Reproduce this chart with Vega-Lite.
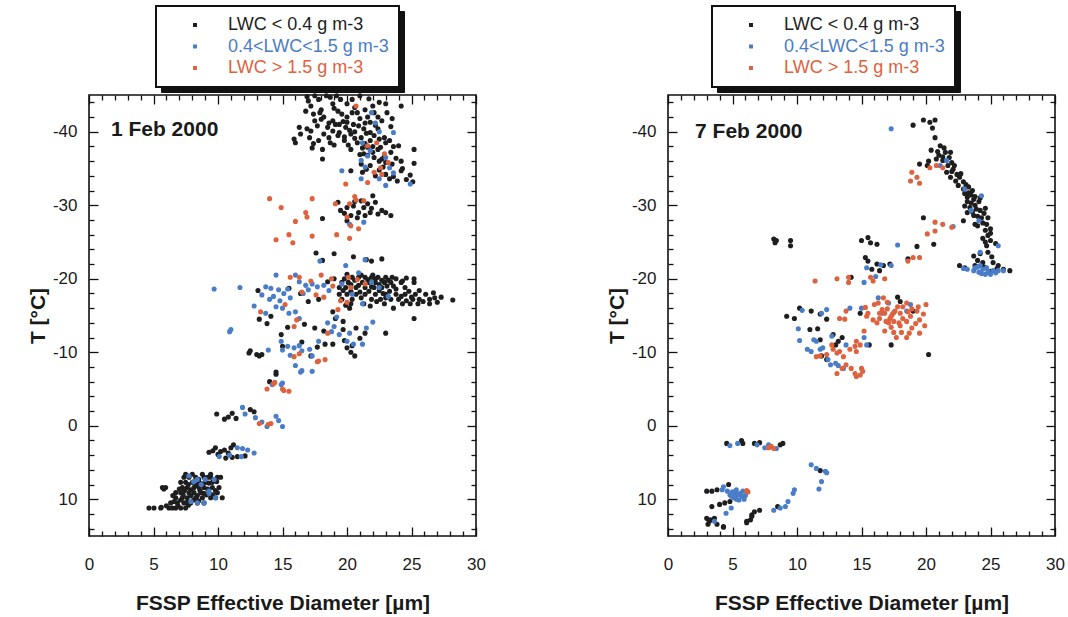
{
  "$schema": "https://vega.github.io/schema/vega-lite/v6.json",
  "background": "white",
  "padding": {"left": 26, "top": 4, "right": 2, "bottom": 0},
  "spacing": 118,
  "config": {
    "font": "Liberation Sans",
    "view": {"stroke": "#111", "strokeWidth": 1.6},
    "axis": {"grid": false, "domain": false, "tickColor": "#111", "tickWidth": 1.3, "labelFont": "Liberation Sans", "labelFontSize": 17, "labelColor": "#1a1a1a", "titleFont": "Liberation Sans", "titleFontSize": 21, "titleFontWeight": "bold", "titleColor": "#1a1a1a", "labelFlush": false, "labelOverlap": false}
  },
  "resolve": {"scale": {"color": "independent", "fill": "independent"}, "legend": {"color": "independent", "fill": "independent"}},
  "datasets": {
    "classes": [
      {"c": "K", "lwc": "LWC < 0.4 g m-3"},
      {"c": "B", "lwc": "0.4<LWC<1.5 g m-3"},
      {"c": "R", "lwc": "LWC > 1.5 g m-3"}
    ],
    "feb1": [
      {"d":16.9,"t":-44.8,"c":"K"},{"d":17.8,"t":-44.4,"c":"K"},{"d":18.7,"t":-44.7,"c":"K"},{"d":19.5,"t":-44.4,"c":"K"},{"d":20.4,"t":-44.4,"c":"K"},{"d":21.7,"t":-44.5,"c":"K"},{"d":24.2,"t":-43.5,"c":"K"},{"d":17.2,"t":-43.5,"c":"K"},{"d":17.4,"t":-42.4,"c":"K"},{"d":18.2,"t":-42.0,"c":"K"},{"d":18.9,"t":-41.5,"c":"K"},{"d":19.6,"t":-42.4,"c":"K"},{"d":20.8,"t":-42.6,"c":"K"},{"d":22.1,"t":-42.6,"c":"K"},{"d":22.7,"t":-41.5,"c":"K"},{"d":23.1,"t":-42.6,"c":"K"},{"d":16.3,"t":-40.6,"c":"K"},{"d":17.2,"t":-40.1,"c":"K"},{"d":17.7,"t":-40.8,"c":"K"},{"d":18.5,"t":-40.6,"c":"K"},{"d":19.1,"t":-41.0,"c":"K"},{"d":19.9,"t":-40.6,"c":"K"},{"d":20.5,"t":-41.0,"c":"K"},{"d":21.3,"t":-40.4,"c":"K"},{"d":21.8,"t":-41.3,"c":"K"},{"d":22.4,"t":-40.4,"c":"K"},{"d":16.4,"t":-39.7,"c":"K"},{"d":18.2,"t":-39.7,"c":"K"},{"d":19.3,"t":-39.5,"c":"K"},{"d":20.3,"t":-39.7,"c":"K"},{"d":21.1,"t":-39.2,"c":"K"},{"d":22.1,"t":-39.5,"c":"K"},{"d":22.9,"t":-39.2,"c":"K"},{"d":16.0,"t":-38.5,"c":"K"},{"d":17.8,"t":-38.8,"c":"K"},{"d":18.7,"t":-38.5,"c":"K"},{"d":19.8,"t":-38.8,"c":"K"},{"d":20.8,"t":-38.5,"c":"K"},{"d":21.8,"t":-38.8,"c":"K"},{"d":23.0,"t":-38.5,"c":"K"},{"d":18.1,"t":-37.6,"c":"K"},{"d":20.3,"t":-37.6,"c":"K"},{"d":21.6,"t":-37.9,"c":"K"},{"d":22.4,"t":-37.6,"c":"K"},{"d":24.0,"t":-38.1,"c":"K"},{"d":25.2,"t":-37.6,"c":"K"},{"d":18.1,"t":-36.3,"c":"K"},{"d":21.3,"t":-37.0,"c":"K"},{"d":22.1,"t":-36.5,"c":"K"},{"d":22.9,"t":-36.7,"c":"K"},{"d":21.1,"t":-35.6,"c":"K"},{"d":21.8,"t":-35.4,"c":"K"},{"d":23.5,"t":-35.6,"c":"K"},{"d":25.2,"t":-35.7,"c":"K"},{"d":20.3,"t":-34.7,"c":"K"},{"d":21.2,"t":-34.5,"c":"K"},{"d":23.0,"t":-34.2,"c":"K"},{"d":24.2,"t":-34.7,"c":"K"},{"d":23.3,"t":-33.6,"c":"K"},{"d":23.9,"t":-33.3,"c":"K"},{"d":25.1,"t":-33.2,"c":"K"},{"d":22.2,"t":-34.0,"c":"K"},
      {"d":18.0,"t":-43.0,"c":"K"},{"d":19.0,"t":-43.2,"c":"K"},{"d":20.0,"t":-42.0,"c":"K"},{"d":20.2,"t":-40.2,"c":"K"},{"d":19.4,"t":-39.9,"c":"K"},{"d":21.0,"t":-41.8,"c":"K"},{"d":18.6,"t":-41.2,"c":"K"},{"d":17.5,"t":-41.5,"c":"K"},{"d":19.7,"t":-41.4,"c":"K"},{"d":20.9,"t":-40.8,"c":"K"},{"d":21.5,"t":-39.8,"c":"K"},{"d":22.0,"t":-38.0,"c":"K"},{"d":20.6,"t":-39.1,"c":"K"},{"d":19.0,"t":-38.2,"c":"K"},{"d":21.4,"t":-38.4,"c":"K"},{"d":22.6,"t":-37.9,"c":"K"},{"d":23.4,"t":-37.2,"c":"K"},{"d":22.5,"t":-36.0,"c":"K"},{"d":23.8,"t":-36.4,"c":"K"},{"d":22.8,"t":-35.2,"c":"K"},{"d":24.3,"t":-35.0,"c":"K"},{"d":24.6,"t":-33.5,"c":"K"},{"d":21.6,"t":-36.8,"c":"K"},{"d":16.8,"t":-42.8,"c":"K"},{"d":17.0,"t":-44.2,"c":"K"},{"d":18.4,"t":-44.9,"c":"K"},{"d":23.0,"t":-43.8,"c":"K"},{"d":20.0,"t":-43.8,"c":"K"},{"d":21.4,"t":-43.0,"c":"K"},{"d":22.4,"t":-42.0,"c":"K"},{"d":23.4,"t":-40.7,"c":"K"},{"d":15.9,"t":-39.0,"c":"K"},{"d":17.3,"t":-37.8,"c":"K"},
      {"d":17.5,"t":-44.9,"c":"K"},{"d":19.2,"t":-44.9,"c":"K"},{"d":21.0,"t":-44.9,"c":"K"},{"d":22.5,"t":-44.0,"c":"K"},{"d":18.9,"t":-43.8,"c":"K"},{"d":20.6,"t":-43.3,"c":"K"},{"d":22.0,"t":-43.5,"c":"K"},{"d":17.9,"t":-42.6,"c":"K"},{"d":19.3,"t":-42.8,"c":"K"},{"d":20.4,"t":-42.6,"c":"K"},{"d":21.6,"t":-42.0,"c":"K"},{"d":23.5,"t":-41.8,"c":"K"},{"d":18.0,"t":-41.7,"c":"K"},{"d":19.4,"t":-41.0,"c":"K"},{"d":20.0,"t":-41.3,"c":"K"},{"d":21.4,"t":-41.2,"c":"K"},{"d":22.2,"t":-40.9,"c":"K"},{"d":16.9,"t":-40.4,"c":"K"},{"d":18.9,"t":-40.1,"c":"K"},{"d":20.6,"t":-40.0,"c":"K"},{"d":21.8,"t":-39.9,"c":"K"},{"d":17.1,"t":-39.2,"c":"K"},{"d":18.6,"t":-39.2,"c":"K"},{"d":19.8,"t":-39.3,"c":"K"},{"d":22.5,"t":-39.0,"c":"K"},{"d":23.3,"t":-38.8,"c":"K"},{"d":17.4,"t":-38.4,"c":"K"},{"d":20.1,"t":-38.2,"c":"K"},{"d":21.2,"t":-37.8,"c":"K"},{"d":23.6,"t":-38.0,"c":"K"},{"d":22.0,"t":-37.2,"c":"K"},{"d":21.0,"t":-36.9,"c":"K"},{"d":22.7,"t":-36.3,"c":"K"},{"d":23.0,"t":-35.8,"c":"K"},{"d":24.2,"t":-36.0,"c":"K"},{"d":21.5,"t":-34.9,"c":"K"},{"d":22.5,"t":-34.8,"c":"K"},{"d":23.6,"t":-33.9,"c":"K"},{"d":24.9,"t":-34.1,"c":"K"},
      {"d":19.3,"t":-30.4,"c":"K"},{"d":19.5,"t":-29.3,"c":"K"},{"d":20.0,"t":-29.7,"c":"K"},{"d":20.5,"t":-29.9,"c":"K"},{"d":20.9,"t":-29.0,"c":"K"},{"d":21.3,"t":-29.7,"c":"K"},{"d":21.8,"t":-29.0,"c":"K"},{"d":22.4,"t":-28.8,"c":"K"},{"d":23.0,"t":-29.0,"c":"K"},{"d":23.4,"t":-28.6,"c":"K"},{"d":22.0,"t":-31.3,"c":"K"},{"d":21.1,"t":-30.6,"c":"K"},{"d":21.6,"t":-30.2,"c":"K"},{"d":20.3,"t":-28.6,"c":"K"},{"d":18.1,"t":-28.2,"c":"K"},{"d":21.4,"t":-28.6,"c":"K"},{"d":20.0,"t":-27.9,"c":"K"},{"d":20.6,"t":-30.5,"c":"K"},{"d":21.9,"t":-29.6,"c":"K"},{"d":22.7,"t":-29.3,"c":"K"},{"d":19.8,"t":-28.9,"c":"K"},{"d":20.8,"t":-28.3,"c":"K"},{"d":22.2,"t":-30.4,"c":"K"},
      {"d":17.6,"t":-23.5,"c":"K"},{"d":19.0,"t":-23.4,"c":"K"},{"d":20.5,"t":-23.0,"c":"K"},{"d":21.5,"t":-22.6,"c":"K"},{"d":22.7,"t":-22.7,"c":"K"},{"d":21.9,"t":-22.4,"c":"K"},{"d":18.1,"t":-22.5,"c":"K"},
      {"d":20.4,"t":-20.2,"c":"K"},{"d":20.9,"t":-20.2,"c":"K"},{"d":21.4,"t":-20.2,"c":"K"},{"d":21.9,"t":-20.2,"c":"K"},{"d":22.4,"t":-20.2,"c":"K"},{"d":23.0,"t":-20.2,"c":"K"},{"d":23.5,"t":-20.2,"c":"K"},
      {"d":19.6,"t":-19.5,"c":"K"},{"d":20.1,"t":-19.5,"c":"K"},{"d":21.2,"t":-19.5,"c":"K"},{"d":21.7,"t":-19.5,"c":"K"},{"d":22.2,"t":-19.5,"c":"K"},{"d":22.9,"t":-19.5,"c":"K"},{"d":23.4,"t":-19.5,"c":"K"},{"d":24.2,"t":-19.5,"c":"K"},{"d":25.2,"t":-19.5,"c":"K"},
      {"d":19.4,"t":-18.8,"c":"K"},{"d":19.9,"t":-18.8,"c":"K"},{"d":20.7,"t":-18.8,"c":"K"},{"d":21.4,"t":-18.8,"c":"K"},{"d":22.1,"t":-18.8,"c":"K"},{"d":22.7,"t":-18.8,"c":"K"},
      {"d":19.4,"t":-17.9,"c":"K"},{"d":20.0,"t":-17.9,"c":"K"},{"d":20.7,"t":-17.9,"c":"K"},{"d":21.4,"t":-17.9,"c":"K"},{"d":22.2,"t":-17.9,"c":"K"},{"d":23.0,"t":-17.9,"c":"K"},{"d":23.8,"t":-17.9,"c":"K"},{"d":24.5,"t":-17.9,"c":"K"},{"d":25.3,"t":-17.9,"c":"K"},{"d":26.1,"t":-17.9,"c":"K"},
      {"d":19.6,"t":-17.2,"c":"K"},{"d":20.4,"t":-17.2,"c":"K"},{"d":21.9,"t":-17.2,"c":"K"},{"d":22.6,"t":-17.2,"c":"K"},{"d":23.4,"t":-17.2,"c":"K"},{"d":24.0,"t":-17.2,"c":"K"},{"d":25.1,"t":-17.2,"c":"K"},{"d":25.6,"t":-17.2,"c":"K"},{"d":26.4,"t":-17.2,"c":"K"},
      {"d":20.3,"t":-16.6,"c":"K"},{"d":21.3,"t":-16.6,"c":"K"},{"d":22.9,"t":-16.6,"c":"K"},{"d":24.3,"t":-16.6,"c":"K"},{"d":24.9,"t":-16.6,"c":"K"},{"d":25.5,"t":-16.6,"c":"K"},{"d":26.4,"t":-16.6,"c":"K"},
      {"d":27.3,"t":-17.5,"c":"K"},{"d":28.2,"t":-17.1,"c":"K"},{"d":25.2,"t":-20.0,"c":"K"},{"d":24.3,"t":-19.7,"c":"K"},{"d":25.2,"t":-14.6,"c":"K"},{"d":19.0,"t":-20.0,"c":"K"},{"d":20.0,"t":-20.6,"c":"K"},{"d":22.0,"t":-20.5,"c":"K"},{"d":23.6,"t":-19.0,"c":"K"},{"d":24.8,"t":-18.3,"c":"K"},{"d":21.0,"t":-18.2,"c":"K"},{"d":22.8,"t":-18.0,"c":"K"},{"d":20.2,"t":-16.0,"c":"K"},{"d":21.8,"t":-16.3,"c":"K"},{"d":23.6,"t":-16.0,"c":"K"},
      {"d":19.8,"t":-20.0,"c":"K"},{"d":20.6,"t":-19.8,"c":"K"},{"d":21.1,"t":-20.5,"c":"K"},{"d":21.6,"t":-19.9,"c":"K"},{"d":22.2,"t":-20.0,"c":"K"},{"d":22.7,"t":-19.8,"c":"K"},{"d":23.2,"t":-19.8,"c":"K"},{"d":23.8,"t":-20.0,"c":"K"},{"d":24.6,"t":-20.1,"c":"K"},{"d":20.3,"t":-19.2,"c":"K"},{"d":20.9,"t":-19.1,"c":"K"},{"d":21.9,"t":-18.9,"c":"K"},{"d":22.5,"t":-19.2,"c":"K"},{"d":23.1,"t":-19.0,"c":"K"},{"d":23.8,"t":-18.6,"c":"K"},{"d":24.5,"t":-18.8,"c":"K"},{"d":25.6,"t":-18.4,"c":"K"},{"d":26.7,"t":-18.1,"c":"K"},{"d":19.7,"t":-18.4,"c":"K"},{"d":20.3,"t":-18.3,"c":"K"},{"d":21.7,"t":-18.3,"c":"K"},{"d":22.5,"t":-18.4,"c":"K"},{"d":23.3,"t":-18.3,"c":"K"},{"d":24.2,"t":-17.6,"c":"K"},{"d":25.0,"t":-17.5,"c":"K"},{"d":26.8,"t":-17.4,"c":"K"},{"d":21.1,"t":-17.4,"c":"K"},{"d":22.3,"t":-16.9,"c":"K"},{"d":23.0,"t":-17.4,"c":"K"},{"d":24.6,"t":-17.0,"c":"K"},{"d":25.9,"t":-16.9,"c":"K"},{"d":19.9,"t":-16.4,"c":"K"},{"d":27.0,"t":-16.8,"c":"K"},
      {"d":13.1,"t":-18.4,"c":"K"},{"d":15.5,"t":-18.7,"c":"K"},{"d":16.4,"t":-18.0,"c":"K"},{"d":17.0,"t":-16.9,"c":"K"},{"d":14.1,"t":-14.9,"c":"K"},{"d":13.2,"t":-14.5,"c":"K"},{"d":13.8,"t":-13.9,"c":"K"},{"d":18.5,"t":-19.6,"c":"K"},{"d":17.8,"t":-17.2,"c":"K"},
      {"d":18.9,"t":-15.5,"c":"K"},{"d":19.1,"t":-14.6,"c":"K"},{"d":19.7,"t":-14.2,"c":"K"},{"d":15.4,"t":-13.4,"c":"K"},{"d":16.7,"t":-13.8,"c":"K"},{"d":17.5,"t":-13.3,"c":"K"},{"d":14.9,"t":-12.4,"c":"K"},{"d":18.2,"t":-12.9,"c":"K"},{"d":19.7,"t":-13.1,"c":"K"},{"d":20.7,"t":-13.3,"c":"K"},{"d":21.4,"t":-12.6,"c":"K"},{"d":21.0,"t":-11.9,"c":"K"},{"d":23.0,"t":-12.6,"c":"K"},{"d":18.9,"t":-11.1,"c":"K"},{"d":20.0,"t":-10.6,"c":"K"},{"d":20.3,"t":-10.0,"c":"K"},{"d":20.4,"t":-10.9,"c":"K"},{"d":12.4,"t":-9.9,"c":"K"},{"d":13.2,"t":-9.5,"c":"K"},{"d":13.4,"t":-9.7,"c":"K"},{"d":14.5,"t":-7.0,"c":"K"},{"d":17.2,"t":-9.5,"c":"K"},{"d":17.7,"t":-10.7,"c":"K"},{"d":18.3,"t":-11.1,"c":"K"},{"d":15.0,"t":-10.8,"c":"K"},{"d":16.5,"t":-11.4,"c":"K"},{"d":12.5,"t":-10.2,"c":"K"},{"d":13.0,"t":-9.7,"c":"K"},{"d":14.0,"t":-6.0,"c":"K"},{"d":14.5,"t":-7.3,"c":"K"},{"d":20.6,"t":-9.5,"c":"K"},{"d":19.8,"t":-11.6,"c":"K"},
      {"d":9.9,"t":-1.6,"c":"K"},{"d":10.5,"t":-0.9,"c":"K"},{"d":11.1,"t":-1.7,"c":"K"},{"d":11.4,"t":-1.0,"c":"K"},{"d":12.8,"t":-1.9,"c":"K"},{"d":12.5,"t":-2.2,"c":"K"},{"d":10.8,"t":-1.2,"c":"K"},
      {"d":9.3,"t":3.6,"c":"K"},{"d":9.8,"t":3.0,"c":"K"},{"d":10.2,"t":3.5,"c":"K"},{"d":10.5,"t":3.3,"c":"K"},{"d":10.8,"t":3.7,"c":"K"},{"d":11.0,"t":3.0,"c":"K"},{"d":11.2,"t":2.6,"c":"K"},{"d":10.6,"t":4.4,"c":"K"},{"d":11.1,"t":4.3,"c":"K"},{"d":11.5,"t":4.2,"c":"K"},{"d":12.1,"t":4.1,"c":"K"},{"d":9.6,"t":3.4,"c":"K"},{"d":10.0,"t":3.9,"c":"K"},
      {"d":4.65,"t":11.2,"c":"K"},{"d":5.04,"t":11.2,"c":"K"},{"d":5.56,"t":11.2,"c":"K"},{"d":6.2,"t":11.2,"c":"K"},{"d":6.46,"t":11.2,"c":"K"},{"d":6.72,"t":11.2,"c":"K"},{"d":7.11,"t":11.2,"c":"K"},{"d":7.49,"t":11.2,"c":"K"},
      {"d":6.33,"t":10.5,"c":"K"},{"d":6.85,"t":10.5,"c":"K"},{"d":7.36,"t":10.5,"c":"K"},{"d":7.88,"t":10.5,"c":"K"},{"d":8.4,"t":10.5,"c":"K"},{"d":8.92,"t":10.5,"c":"K"},
      {"d":6.72,"t":9.8,"c":"K"},{"d":7.24,"t":9.8,"c":"K"},{"d":7.62,"t":9.8,"c":"K"},{"d":8.27,"t":9.8,"c":"K"},{"d":8.79,"t":9.8,"c":"K"},{"d":9.43,"t":9.8,"c":"K"},{"d":9.82,"t":9.8,"c":"K"},{"d":10.33,"t":9.8,"c":"K"},
      {"d":6.72,"t":9.1,"c":"K"},{"d":7.11,"t":9.1,"c":"K"},{"d":7.75,"t":9.1,"c":"K"},{"d":8.14,"t":9.1,"c":"K"},{"d":8.66,"t":9.1,"c":"K"},{"d":9.3,"t":9.1,"c":"K"},{"d":9.95,"t":9.1,"c":"K"},
      {"d":5.69,"t":8.4,"c":"K"},{"d":5.94,"t":8.4,"c":"K"},{"d":7.24,"t":8.4,"c":"K"},{"d":7.62,"t":8.4,"c":"K"},{"d":8.14,"t":8.4,"c":"K"},{"d":8.53,"t":8.4,"c":"K"},{"d":8.92,"t":8.4,"c":"K"},{"d":9.56,"t":8.4,"c":"K"},{"d":10.08,"t":8.4,"c":"K"},
      {"d":7.11,"t":7.7,"c":"K"},{"d":7.49,"t":7.7,"c":"K"},{"d":8.01,"t":7.7,"c":"K"},{"d":8.53,"t":7.7,"c":"K"},{"d":9.04,"t":7.7,"c":"K"},{"d":9.56,"t":7.7,"c":"K"},
      {"d":7.36,"t":7.0,"c":"K"},{"d":7.75,"t":7.0,"c":"K"},{"d":8.27,"t":7.0,"c":"K"},{"d":8.92,"t":7.0,"c":"K"},{"d":9.43,"t":7.0,"c":"K"},{"d":9.95,"t":7.0,"c":"K"},{"d":10.2,"t":7.0,"c":"K"},
      {"d":7.49,"t":6.6,"c":"K"},{"d":8.01,"t":6.6,"c":"K"},{"d":8.79,"t":6.6,"c":"K"},{"d":9.43,"t":6.6,"c":"K"},
      {"d":6.9,"t":10.9,"c":"K"},{"d":7.7,"t":10.8,"c":"K"},{"d":8.5,"t":10.2,"c":"K"},{"d":9.1,"t":9.4,"c":"K"},{"d":7.0,"t":8.6,"c":"K"},{"d":6.5,"t":9.5,"c":"K"},{"d":5.6,"t":11.1,"c":"K"},{"d":5.8,"t":8.6,"c":"K"},
      {"d":6.0,"t":10.9,"c":"K"},{"d":6.6,"t":10.3,"c":"K"},{"d":7.1,"t":10.1,"c":"K"},{"d":7.6,"t":10.4,"c":"K"},{"d":8.1,"t":10.1,"c":"K"},{"d":7.3,"t":9.4,"c":"K"},{"d":7.9,"t":9.5,"c":"K"},{"d":8.4,"t":9.5,"c":"K"},{"d":8.9,"t":9.2,"c":"K"},{"d":9.6,"t":9.4,"c":"K"},{"d":7.4,"t":8.8,"c":"K"},{"d":7.9,"t":8.7,"c":"K"},{"d":8.6,"t":8.8,"c":"K"},{"d":9.2,"t":8.6,"c":"K"},{"d":9.8,"t":8.8,"c":"K"},{"d":7.7,"t":8.0,"c":"K"},{"d":8.3,"t":8.1,"c":"K"},{"d":8.8,"t":7.9,"c":"K"},{"d":9.3,"t":7.8,"c":"K"},{"d":9.9,"t":7.6,"c":"K"},{"d":8.5,"t":7.3,"c":"K"},{"d":9.2,"t":7.0,"c":"K"},
      {"d":21.9,"t":-42.6,"c":"B"},{"d":23.6,"t":-39.9,"c":"B"},{"d":22.5,"t":-40.0,"c":"B"},{"d":21.2,"t":-38.5,"c":"B"},{"d":21.8,"t":-37.4,"c":"B"},{"d":21.1,"t":-36.1,"c":"B"},{"d":23.0,"t":-36.5,"c":"B"},{"d":23.3,"t":-35.1,"c":"B"},{"d":19.6,"t":-34.7,"c":"B"},{"d":21.1,"t":-33.6,"c":"B"},{"d":22.5,"t":-33.6,"c":"B"},{"d":23.0,"t":-32.7,"c":"B"},{"d":24.9,"t":-32.9,"c":"B"},{"d":21.6,"t":-36.7,"c":"B"},{"d":22.2,"t":-41.2,"c":"B"},{"d":21.4,"t":-35.2,"c":"B"},{"d":23.6,"t":-34.4,"c":"B"},
      {"d":20.2,"t":-27.4,"c":"B"},{"d":21.3,"t":-27.7,"c":"B"},
      {"d":19.6,"t":-19.3,"c":"B"},{"d":20.4,"t":-17.9,"c":"B"},{"d":21.2,"t":-16.6,"c":"B"},{"d":22.5,"t":-18.8,"c":"B"},{"d":21.9,"t":-19.5,"c":"B"},{"d":23.2,"t":-17.6,"c":"B"},{"d":20.9,"t":-20.8,"c":"B"},{"d":21.4,"t":-22.6,"c":"B"},{"d":19.9,"t":-21.8,"c":"B"},{"d":17.9,"t":-22.4,"c":"B"},
      {"d":9.7,"t":-18.6,"c":"B"},{"d":11.7,"t":-18.8,"c":"B"},{"d":10.9,"t":-12.8,"c":"B"},{"d":12.8,"t":-16.3,"c":"B"},{"d":13.7,"t":-18.9,"c":"B"},{"d":14.5,"t":-20.5,"c":"B"},{"d":14.1,"t":-18.7,"c":"B"},{"d":14.3,"t":-17.6,"c":"B"},{"d":14.7,"t":-18.5,"c":"B"},{"d":15.1,"t":-18.0,"c":"B"},{"d":14.5,"t":-16.2,"c":"B"},{"d":15.0,"t":-16.0,"c":"B"},{"d":15.6,"t":-17.4,"c":"B"},{"d":16.0,"t":-20.5,"c":"B"},{"d":16.3,"t":-19.6,"c":"B"},{"d":16.8,"t":-19.1,"c":"B"},{"d":17.3,"t":-19.3,"c":"B"},{"d":17.0,"t":-18.5,"c":"B"},{"d":17.7,"t":-18.9,"c":"B"},{"d":18.2,"t":-19.1,"c":"B"},{"d":15.5,"t":-15.3,"c":"B"},{"d":16.0,"t":-15.5,"c":"B"},{"d":16.3,"t":-14.6,"c":"B"},{"d":13.7,"t":-15.3,"c":"B"},{"d":14.8,"t":-17.0,"c":"B"},{"d":15.4,"t":-18.6,"c":"B"},{"d":14.0,"t":-17.2,"c":"B"},{"d":16.6,"t":-18.0,"c":"B"},{"d":18.6,"t":-18.4,"c":"B"},{"d":13.4,"t":-17.8,"c":"B"},
      {"d":18.5,"t":-14.0,"c":"B"},{"d":19.0,"t":-13.5,"c":"B"},{"d":18.8,"t":-12.8,"c":"B"},{"d":19.4,"t":-12.4,"c":"B"},{"d":20.0,"t":-11.5,"c":"B"},{"d":20.5,"t":-11.1,"c":"B"},{"d":21.2,"t":-11.1,"c":"B"},{"d":21.5,"t":-13.3,"c":"B"},{"d":22.0,"t":-14.1,"c":"B"},{"d":14.9,"t":-11.5,"c":"B"},{"d":15.4,"t":-10.8,"c":"B"},{"d":15.9,"t":-10.6,"c":"B"},{"d":16.3,"t":-10.9,"c":"B"},{"d":16.5,"t":-10.2,"c":"B"},{"d":17.1,"t":-10.4,"c":"B"},{"d":17.3,"t":-9.5,"c":"B"},{"d":16.0,"t":-8.2,"c":"B"},{"d":16.5,"t":-7.5,"c":"B"},{"d":17.3,"t":-7.4,"c":"B"},{"d":15.0,"t":-10.3,"c":"B"},{"d":17.8,"t":-11.5,"c":"B"},{"d":13.9,"t":-10.3,"c":"B"},{"d":11.0,"t":-13.1,"c":"B"},{"d":16.4,"t":-7.3,"c":"B"},{"d":15.0,"t":-5.8,"c":"B"},{"d":19.2,"t":-14.8,"c":"B"},{"d":20.2,"t":-12.6,"c":"B"},{"d":15.6,"t":-9.6,"c":"B"},{"d":14.2,"t":-5.6,"c":"B"},{"d":14.9,"t":-5.6,"c":"B"},
      {"d":11.9,"t":-2.5,"c":"B"},{"d":12.1,"t":-1.6,"c":"B"},{"d":12.9,"t":-1.1,"c":"B"},{"d":13.4,"t":-0.5,"c":"B"},{"d":14.5,"t":-1.3,"c":"B"},{"d":14.7,"t":-0.7,"c":"B"},{"d":15.0,"t":0.1,"c":"B"},{"d":13.8,"t":0.1,"c":"B"},
      {"d":10.1,"t":4.2,"c":"B"},{"d":11.5,"t":3.0,"c":"B"},{"d":11.9,"t":3.1,"c":"B"},{"d":12.3,"t":3.3,"c":"B"},{"d":12.8,"t":3.7,"c":"B"},{"d":10.9,"t":4.0,"c":"B"},{"d":11.8,"t":4.2,"c":"B"},
      {"d":7.75,"t":6.8,"c":"B"},{"d":8.4,"t":7.3,"c":"B"},{"d":9.0,"t":7.3,"c":"B"},{"d":9.7,"t":7.3,"c":"B"},{"d":8.7,"t":8.0,"c":"B"},{"d":9.3,"t":8.9,"c":"B"},{"d":9.8,"t":9.8,"c":"B"},{"d":7.9,"t":10.3,"c":"B"},{"d":8.4,"t":10.5,"c":"B"},{"d":8.9,"t":10.5,"c":"B"},{"d":9.3,"t":9.2,"c":"B"},{"d":8.1,"t":7.6,"c":"B"},
      {"d":20.7,"t":-43.5,"c":"R"},{"d":21.6,"t":-38.1,"c":"R"},{"d":22.9,"t":-37.0,"c":"R"},{"d":22.6,"t":-35.1,"c":"R"},{"d":22.1,"t":-34.5,"c":"R"},{"d":21.6,"t":-33.1,"c":"R"},{"d":22.7,"t":-34.2,"c":"R"},{"d":19.9,"t":-32.9,"c":"R"},{"d":22.3,"t":-38.5,"c":"R"},{"d":23.2,"t":-35.8,"c":"R"},
      {"d":14.0,"t":-30.9,"c":"R"},{"d":14.9,"t":-29.7,"c":"R"},{"d":17.3,"t":-30.9,"c":"R"},{"d":16.8,"t":-29.0,"c":"R"},{"d":16.9,"t":-28.4,"c":"R"},{"d":16.0,"t":-27.8,"c":"R"},{"d":15.5,"t":-26.0,"c":"R"},{"d":14.5,"t":-25.3,"c":"R"},{"d":15.8,"t":-24.9,"c":"R"},{"d":17.3,"t":-25.8,"c":"R"},{"d":19.2,"t":-26.0,"c":"R"},{"d":20.2,"t":-25.5,"c":"R"},{"d":20.2,"t":-30.2,"c":"R"},{"d":20.7,"t":-30.7,"c":"R"},{"d":21.3,"t":-30.6,"c":"R"},{"d":19.1,"t":-30.2,"c":"R"},{"d":20.9,"t":-26.8,"c":"R"},{"d":20.0,"t":-28.4,"c":"R"},{"d":20.3,"t":-27.2,"c":"R"},{"d":20.6,"t":-31.2,"c":"R"},
      {"d":20.1,"t":-20.2,"c":"R"},{"d":20.8,"t":-19.9,"c":"R"},{"d":20.3,"t":-18.8,"c":"R"},{"d":19.5,"t":-17.0,"c":"R"},{"d":20.0,"t":-16.8,"c":"R"},{"d":21.4,"t":-19.3,"c":"R"},{"d":18.9,"t":-19.0,"c":"R"},{"d":19.3,"t":-15.8,"c":"R"},
      {"d":15.6,"t":-20.2,"c":"R"},{"d":16.3,"t":-20.2,"c":"R"},{"d":18.0,"t":-20.5,"c":"R"},{"d":17.2,"t":-19.7,"c":"R"},{"d":16.5,"t":-18.2,"c":"R"},{"d":17.6,"t":-17.8,"c":"R"},{"d":18.2,"t":-17.5,"c":"R"},{"d":15.2,"t":-16.5,"c":"R"},{"d":13.3,"t":-15.5,"c":"R"},{"d":16.1,"t":-14.4,"c":"R"},{"d":15.9,"t":-13.5,"c":"R"},{"d":18.8,"t":-20.0,"c":"R"},
      {"d":18.5,"t":-12.6,"c":"R"},{"d":17.8,"t":-8.8,"c":"R"},{"d":18.3,"t":-9.0,"c":"R"},{"d":15.9,"t":-9.4,"c":"R"},{"d":16.3,"t":-9.8,"c":"R"},{"d":17.7,"t":-8.7,"c":"R"},
      {"d":13.8,"t":-5.0,"c":"R"},{"d":14.3,"t":-5.7,"c":"R"},{"d":15.0,"t":-5.0,"c":"R"},{"d":15.1,"t":-4.8,"c":"R"},{"d":15.5,"t":-4.7,"c":"R"},{"d":14.4,"t":-5.9,"c":"R"},
      {"d":13.2,"t":-0.3,"c":"R"},{"d":14.1,"t":-0.3,"c":"R"},{"d":13.9,"t":-0.2,"c":"R"}
    ],
    "feb7": [
      {"d":19.0,"t":-40.9,"c":"K"},{"d":19.8,"t":-41.6,"c":"K"},{"d":20.3,"t":-41.3,"c":"K"},{"d":20.7,"t":-41.6,"c":"K"},{"d":20.7,"t":-39.2,"c":"K"},{"d":21.1,"t":-38.1,"c":"K"},{"d":21.5,"t":-37.2,"c":"K"},{"d":21.9,"t":-37.2,"c":"K"},{"d":20.8,"t":-36.3,"c":"K"},{"d":19.5,"t":-35.6,"c":"K"},{"d":20.1,"t":-35.4,"c":"K"},{"d":21.3,"t":-36.1,"c":"K"},{"d":21.7,"t":-35.4,"c":"K"},{"d":22.1,"t":-34.9,"c":"K"},{"d":21.6,"t":-34.5,"c":"K"},{"d":21.9,"t":-33.8,"c":"K"},{"d":22.3,"t":-33.3,"c":"K"},{"d":22.5,"t":-32.7,"c":"K"},{"d":22.9,"t":-32.2,"c":"K"},{"d":23.3,"t":-31.7,"c":"K"},{"d":23.2,"t":-31.1,"c":"K"},{"d":23.7,"t":-30.8,"c":"K"},{"d":23.0,"t":-29.9,"c":"K"},{"d":23.4,"t":-29.7,"c":"K"},{"d":23.9,"t":-29.5,"c":"K"},{"d":23.2,"t":-29.0,"c":"K"},{"d":23.7,"t":-28.6,"c":"K"},{"d":24.3,"t":-28.3,"c":"K"},{"d":24.8,"t":-28.3,"c":"K"},{"d":22.9,"t":-27.9,"c":"K"},{"d":23.8,"t":-27.4,"c":"K"},{"d":25.0,"t":-26.8,"c":"K"},{"d":24.8,"t":-25.9,"c":"K"},{"d":25.0,"t":-25.2,"c":"K"},{"d":24.7,"t":-24.5,"c":"K"},{"d":24.8,"t":-23.6,"c":"K"},{"d":24.2,"t":-23.4,"c":"K"},{"d":23.7,"t":-23.1,"c":"K"},{"d":24.4,"t":-22.2,"c":"K"},{"d":25.2,"t":-22.2,"c":"K"},{"d":26.0,"t":-21.3,"c":"K"},{"d":26.5,"t":-21.1,"c":"K"},{"d":19.8,"t":-28.3,"c":"K"},{"d":20.6,"t":-24.7,"c":"K"},{"d":19.3,"t":-24.4,"c":"K"},{"d":18.6,"t":-22.7,"c":"K"},{"d":23.0,"t":-21.5,"c":"K"},{"d":22.6,"t":-21.8,"c":"K"},
      {"d":21.0,"t":-36.8,"c":"K"},{"d":22.0,"t":-35.8,"c":"K"},{"d":22.4,"t":-34.2,"c":"K"},{"d":22.6,"t":-33.8,"c":"K"},{"d":23.1,"t":-32.8,"c":"K"},{"d":23.6,"t":-32.0,"c":"K"},{"d":23.8,"t":-31.2,"c":"K"},{"d":24.1,"t":-30.5,"c":"K"},{"d":23.5,"t":-30.3,"c":"K"},{"d":24.2,"t":-29.3,"c":"K"},{"d":24.5,"t":-28.9,"c":"K"},{"d":24.0,"t":-27.2,"c":"K"},{"d":24.6,"t":-26.6,"c":"K"},{"d":24.4,"t":-25.5,"c":"K"},{"d":25.4,"t":-24.8,"c":"K"},{"d":24.5,"t":-21.6,"c":"K"},{"d":25.5,"t":-21.4,"c":"K"},{"d":23.8,"t":-21.8,"c":"K"},{"d":25.0,"t":-21.0,"c":"K"},{"d":20.2,"t":-36.0,"c":"K"},{"d":21.4,"t":-37.8,"c":"K"},{"d":20.5,"t":-40.5,"c":"K"},
      {"d":20.4,"t":-37.5,"c":"K"},{"d":20.9,"t":-37.3,"c":"K"},{"d":21.3,"t":-36.6,"c":"K"},{"d":21.8,"t":-36.5,"c":"K"},{"d":22.2,"t":-35.4,"c":"K"},{"d":22.0,"t":-34.6,"c":"K"},{"d":22.7,"t":-34.3,"c":"K"},{"d":22.9,"t":-33.2,"c":"K"},{"d":23.3,"t":-32.5,"c":"K"},{"d":23.0,"t":-31.6,"c":"K"},{"d":23.5,"t":-31.4,"c":"K"},{"d":24.2,"t":-31.0,"c":"K"},{"d":23.2,"t":-30.5,"c":"K"},{"d":23.8,"t":-30.0,"c":"K"},{"d":24.6,"t":-29.6,"c":"K"},{"d":23.6,"t":-29.1,"c":"K"},{"d":24.0,"t":-28.5,"c":"K"},{"d":24.4,"t":-27.6,"c":"K"},{"d":24.7,"t":-27.4,"c":"K"},{"d":25.0,"t":-26.2,"c":"K"},{"d":24.6,"t":-25.0,"c":"K"},{"d":25.1,"t":-23.0,"c":"K"},{"d":24.0,"t":-22.5,"c":"K"},{"d":25.6,"t":-21.8,"c":"K"},
      {"d":8.2,"t":-25.4,"c":"K"},{"d":8.3,"t":-24.9,"c":"K"},{"d":9.5,"t":-25.2,"c":"K"},{"d":9.5,"t":-24.5,"c":"K"},{"d":8.4,"t":-25.2,"c":"K"},
      {"d":15.0,"t":-25.2,"c":"K"},{"d":15.5,"t":-25.6,"c":"K"},{"d":15.7,"t":-24.9,"c":"K"},{"d":16.2,"t":-24.7,"c":"K"},{"d":15.3,"t":-22.9,"c":"K"},{"d":15.5,"t":-22.4,"c":"K"},{"d":16.2,"t":-22.0,"c":"K"},{"d":16.7,"t":-21.8,"c":"K"},{"d":17.2,"t":-22.0,"c":"K"},{"d":15.8,"t":-21.3,"c":"K"},{"d":16.4,"t":-21.1,"c":"K"},{"d":14.2,"t":-20.2,"c":"K"},
      {"d":9.2,"t":-14.9,"c":"K"},{"d":9.8,"t":-14.6,"c":"K"},{"d":10.2,"t":-16.0,"c":"K"},{"d":11.1,"t":-15.6,"c":"K"},{"d":11.8,"t":-15.2,"c":"K"},{"d":12.3,"t":-14.5,"c":"K"},{"d":11.0,"t":-13.1,"c":"K"},{"d":11.6,"t":-13.2,"c":"K"},{"d":11.8,"t":-11.7,"c":"K"},{"d":12.8,"t":-12.4,"c":"K"},{"d":13.2,"t":-11.5,"c":"K"},{"d":13.5,"t":-12.0,"c":"K"},{"d":11.9,"t":-9.5,"c":"K"},{"d":12.3,"t":-9.0,"c":"K"},{"d":14.9,"t":-15.3,"c":"K"},{"d":15.6,"t":-11.0,"c":"K"},{"d":17.3,"t":-11.0,"c":"K"},{"d":17.8,"t":-17.5,"c":"K"},{"d":18.0,"t":-16.9,"c":"K"},{"d":19.0,"t":-15.6,"c":"K"},{"d":20.2,"t":-9.7,"c":"K"},{"d":13.0,"t":-11.0,"c":"K"},
      {"d":4.55,"t":2.4,"c":"K"},{"d":5.7,"t":2.0,"c":"K"},{"d":5.8,"t":2.4,"c":"K"},{"d":6.7,"t":2.4,"c":"K"},{"d":7.1,"t":2.3,"c":"K"},{"d":8.9,"t":2.4,"c":"K"},{"d":8.7,"t":2.6,"c":"K"},
      {"d":11.8,"t":6.1,"c":"K"},{"d":8.5,"t":11.0,"c":"K"},{"d":7.1,"t":11.5,"c":"K"},{"d":6.7,"t":11.7,"c":"K"},{"d":6.5,"t":12.3,"c":"K"},{"d":6.4,"t":12.8,"c":"K"},{"d":6.1,"t":13.2,"c":"K"},{"d":4.3,"t":13.7,"c":"K"},
      {"d":3.0,"t":8.9,"c":"K"},{"d":3.4,"t":8.9,"c":"K"},{"d":3.8,"t":8.7,"c":"K"},{"d":4.7,"t":8.0,"c":"K"},{"d":4.0,"t":10.7,"c":"K"},{"d":4.4,"t":10.5,"c":"K"},{"d":4.8,"t":10.3,"c":"K"},{"d":3.4,"t":11.0,"c":"K"},{"d":3.0,"t":12.6,"c":"K"},{"d":3.3,"t":12.8,"c":"K"},{"d":3.1,"t":13.4,"c":"K"},{"d":3.8,"t":13.4,"c":"K"},{"d":4.3,"t":13.8,"c":"K"},{"d":6.1,"t":13.0,"c":"K"},{"d":6.5,"t":12.1,"c":"K"},{"d":3.2,"t":13.0,"c":"K"},{"d":3.6,"t":12.6,"c":"K"},
      {"d":17.3,"t":-40.4,"c":"B"},{"d":21.6,"t":-36.1,"c":"B"},{"d":21.1,"t":-35.4,"c":"B"},{"d":23.0,"t":-32.2,"c":"B"},{"d":24.3,"t":-31.3,"c":"B"},{"d":23.5,"t":-29.3,"c":"B"},{"d":24.1,"t":-27.9,"c":"B"},{"d":25.6,"t":-24.5,"c":"B"},{"d":24.2,"t":-23.6,"c":"B"},{"d":24.2,"t":-21.8,"c":"B"},{"d":22.1,"t":-27.1,"c":"B"},
      {"d":23.2,"t":-21.3,"c":"B"},{"d":23.7,"t":-21.1,"c":"B"},{"d":24.1,"t":-20.9,"c":"B"},{"d":24.4,"t":-21.3,"c":"B"},{"d":24.8,"t":-21.0,"c":"B"},{"d":25.2,"t":-21.1,"c":"B"},{"d":25.6,"t":-21.1,"c":"B"},{"d":26.0,"t":-21.1,"c":"B"},{"d":23.8,"t":-21.5,"c":"B"},{"d":24.6,"t":-20.6,"c":"B"},{"d":25.0,"t":-20.6,"c":"B"},{"d":22.9,"t":-21.4,"c":"B"},{"d":24.0,"t":-21.6,"c":"B"},{"d":24.7,"t":-21.5,"c":"B"},{"d":25.4,"t":-20.8,"c":"B"},{"d":24.3,"t":-20.7,"c":"B"},
      {"d":17.8,"t":-24.6,"c":"B"},{"d":16.5,"t":-21.9,"c":"B"},{"d":16.1,"t":-20.3,"c":"B"},{"d":15.4,"t":-21.5,"c":"B"},{"d":15.2,"t":-19.5,"c":"B"},{"d":17.3,"t":-21.8,"c":"B"},
      {"d":10.4,"t":-15.7,"c":"B"},{"d":12.3,"t":-15.8,"c":"B"},{"d":11.9,"t":-15.3,"c":"B"},{"d":14.1,"t":-16.0,"c":"B"},{"d":15.0,"t":-16.0,"c":"B"},{"d":16.3,"t":-17.4,"c":"B"},{"d":17.1,"t":-16.7,"c":"B"},{"d":17.5,"t":-15.4,"c":"B"},{"d":18.8,"t":-16.5,"c":"B"},{"d":10.1,"t":-13.2,"c":"B"},{"d":10.2,"t":-11.6,"c":"B"},{"d":10.8,"t":-10.4,"c":"B"},{"d":11.1,"t":-10.1,"c":"B"},{"d":11.5,"t":-11.5,"c":"B"},{"d":12.7,"t":-12.2,"c":"B"},{"d":12.0,"t":-10.6,"c":"B"},{"d":12.4,"t":-9.0,"c":"B"},{"d":13.0,"t":-8.5,"c":"B"},{"d":13.6,"t":-7.8,"c":"B"},{"d":13.8,"t":-11.0,"c":"B"},{"d":15.4,"t":-11.0,"c":"B"},{"d":15.2,"t":-12.0,"c":"B"},{"d":16.6,"t":-15.3,"c":"B"},{"d":18.5,"t":-15.6,"c":"B"},{"d":12.6,"t":-8.3,"c":"B"},{"d":13.2,"t":-8.2,"c":"B"},{"d":11.8,"t":-10.4,"c":"B"},{"d":11.3,"t":-11.7,"c":"B"},
      {"d":4.8,"t":2.7,"c":"B"},{"d":5.4,"t":2.4,"c":"B"},{"d":6.9,"t":2.6,"c":"B"},{"d":7.5,"t":3.0,"c":"B"},{"d":8.4,"t":3.1,"c":"B"},{"d":7.8,"t":2.6,"c":"B"},
      {"d":11.1,"t":5.3,"c":"B"},{"d":11.5,"t":5.8,"c":"B"},{"d":12.2,"t":6.2,"c":"B"},{"d":12.3,"t":6.4,"c":"B"},{"d":11.9,"t":7.6,"c":"B"},{"d":11.7,"t":8.6,"c":"B"},{"d":9.8,"t":8.7,"c":"B"},{"d":9.7,"t":9.2,"c":"B"},{"d":9.3,"t":10.3,"c":"B"},{"d":9.1,"t":11.0,"c":"B"},{"d":8.7,"t":11.2,"c":"B"},{"d":8.2,"t":11.5,"c":"B"},
      {"d":4.8,"t":9.4,"c":"B"},{"d":5.2,"t":9.2,"c":"B"},{"d":5.4,"t":9.4,"c":"B"},{"d":5.7,"t":9.6,"c":"B"},{"d":5.1,"t":9.8,"c":"B"},{"d":5.5,"t":10.1,"c":"B"},{"d":5.8,"t":8.9,"c":"B"},{"d":5.3,"t":8.7,"c":"B"},{"d":4.3,"t":8.3,"c":"B"},{"d":4.2,"t":8.7,"c":"B"},{"d":4.9,"t":11.2,"c":"B"},{"d":4.5,"t":11.9,"c":"B"},{"d":3.6,"t":13.0,"c":"B"},{"d":5.0,"t":9.0,"c":"B"},{"d":5.6,"t":9.2,"c":"B"},{"d":4.9,"t":9.6,"c":"B"},{"d":5.3,"t":10.0,"c":"B"},{"d":6.0,"t":9.5,"c":"B"},{"d":4.6,"t":8.9,"c":"B"},{"d":5.9,"t":10.0,"c":"B"},
      {"d":18.8,"t":-33.3,"c":"R"},{"d":19.3,"t":-33.8,"c":"R"},{"d":19.5,"t":-33.0,"c":"R"},{"d":18.9,"t":-34.5,"c":"R"},{"d":20.3,"t":-35.1,"c":"R"},{"d":20.8,"t":-35.4,"c":"R"},{"d":21.3,"t":-35.1,"c":"R"},{"d":20.7,"t":-27.7,"c":"R"},{"d":21.3,"t":-27.4,"c":"R"},{"d":22.0,"t":-27.0,"c":"R"},{"d":20.1,"t":-26.1,"c":"R"},{"d":20.7,"t":-26.5,"c":"R"},{"d":19.5,"t":-22.9,"c":"R"},{"d":19.0,"t":-22.9,"c":"R"},
      {"d":11.4,"t":-19.7,"c":"R"},{"d":13.1,"t":-20.0,"c":"R"},{"d":14.0,"t":-20.2,"c":"R"},{"d":14.0,"t":-19.5,"c":"R"},{"d":15.7,"t":-20.2,"c":"R"},{"d":16.8,"t":-20.0,"c":"R"},{"d":15.9,"t":-19.7,"c":"R"},{"d":18.6,"t":-22.4,"c":"R"},
      {"d":13.8,"t":-15.6,"c":"R"},{"d":13.7,"t":-14.5,"c":"R"},{"d":13.3,"t":-14.6,"c":"R"},{"d":15.3,"t":-16.1,"c":"R"},{"d":15.5,"t":-15.3,"c":"R"},{"d":16.0,"t":-16.5,"c":"R"},{"d":16.3,"t":-16.7,"c":"R"},{"d":16.7,"t":-17.4,"c":"R"},{"d":15.4,"t":-14.9,"c":"R"},{"d":15.9,"t":-14.4,"c":"R"},{"d":16.4,"t":-14.6,"c":"R"},{"d":16.8,"t":-15.3,"c":"R"},{"d":17.2,"t":-14.6,"c":"R"},{"d":17.6,"t":-15.6,"c":"R"},{"d":18.0,"t":-15.3,"c":"R"},{"d":18.2,"t":-16.2,"c":"R"},{"d":18.5,"t":-16.7,"c":"R"},{"d":18.8,"t":-14.9,"c":"R"},{"d":19.3,"t":-15.6,"c":"R"},{"d":19.5,"t":-14.4,"c":"R"},{"d":20.0,"t":-16.5,"c":"R"},{"d":19.4,"t":-16.2,"c":"R"},{"d":17.1,"t":-14.0,"c":"R"},{"d":17.5,"t":-14.2,"c":"R"},{"d":17.9,"t":-14.0,"c":"R"},{"d":16.8,"t":-12.9,"c":"R"},{"d":17.5,"t":-12.7,"c":"R"},{"d":18.1,"t":-12.7,"c":"R"},{"d":18.5,"t":-12.0,"c":"R"},{"d":19.5,"t":-12.6,"c":"R"},{"d":17.7,"t":-12.0,"c":"R"},{"d":18.9,"t":-13.3,"c":"R"},{"d":18.5,"t":-14.2,"c":"R"},{"d":16.6,"t":-15.8,"c":"R"},{"d":16.2,"t":-14.0,"c":"R"},{"d":17.3,"t":-14.9,"c":"R"},{"d":18.2,"t":-14.6,"c":"R"},{"d":16.4,"t":-15.3,"c":"R"},
      {"d":17.0,"t":-15.9,"c":"R"},{"d":17.8,"t":-16.2,"c":"R"},{"d":18.9,"t":-15.9,"c":"R"},{"d":19.8,"t":-15.2,"c":"R"},{"d":18.6,"t":-15.5,"c":"R"},{"d":17.4,"t":-15.2,"c":"R"},{"d":16.9,"t":-14.2,"c":"R"},{"d":18.0,"t":-13.6,"c":"R"},{"d":19.2,"t":-13.9,"c":"R"},{"d":17.3,"t":-13.4,"c":"R"},{"d":19.9,"t":-13.6,"c":"R"},{"d":18.7,"t":-12.6,"c":"R"},{"d":17.0,"t":-16.8,"c":"R"},
      {"d":13.1,"t":-9.9,"c":"R"},{"d":13.6,"t":-9.4,"c":"R"},{"d":12.7,"t":-11.0,"c":"R"},{"d":14.1,"t":-10.4,"c":"R"},{"d":14.5,"t":-10.8,"c":"R"},{"d":14.9,"t":-11.0,"c":"R"},{"d":14.6,"t":-10.1,"c":"R"},{"d":13.5,"t":-7.8,"c":"R"},{"d":14.2,"t":-7.8,"c":"R"},{"d":14.5,"t":-7.1,"c":"R"},{"d":14.9,"t":-6.9,"c":"R"},{"d":15.1,"t":-7.4,"c":"R"},{"d":14.6,"t":-6.7,"c":"R"},{"d":13.1,"t":-7.1,"c":"R"},{"d":11.8,"t":-9.5,"c":"R"},{"d":12.3,"t":-9.7,"c":"R"},{"d":13.8,"t":-8.3,"c":"R"},{"d":15.0,"t":-7.8,"c":"R"},{"d":15.2,"t":-12.9,"c":"R"},{"d":14.6,"t":-11.5,"c":"R"},{"d":13.3,"t":-10.1,"c":"R"},{"d":12.8,"t":-10.4,"c":"R"},{"d":11.5,"t":-9.4,"c":"R"},
      {"d":7.8,"t":3.0,"c":"R"},{"d":8.0,"t":2.8,"c":"R"},{"d":8.2,"t":3.1,"c":"R"},{"d":7.9,"t":2.9,"c":"R"},{"d":6.1,"t":8.8,"c":"R"},{"d":6.2,"t":9.0,"c":"R"}
    ]
  },
  "hconcat": [
    {
      "width": 387, "height": 441,
      "resolve": {"axis": {"x": "independent", "y": "independent"}},
      "layer": [
        {
          "data": {"name": "classes"},
          "mark": {"type": "point", "opacity": 0},
          "encoding": {
            "x": {"datum": 0, "type": "quantitative", "axis": null},
            "y": {"datum": 0, "type": "quantitative", "axis": null},
            "color": {"field": "c", "type": "nominal", "scale": {"domain": ["K", "B", "R"], "range": ["#111", "#111", "#111"]},
              "legend": {"title": null, "orient": "none", "legendX": 72, "legendY": -84, "direction": "vertical", "symbolType": "square", "symbolSize": 324, "symbolOpacity": 0, "symbolStrokeWidth": 0, "labelFontSize": 18, "labelOpacity": 0, "padding": 10, "rowPadding": 3.5, "symbolOffset": 20, "labelOffset": 185, "strokeColor": "#111", "fillColor": "#111",
                "labelExpr": "''"}}
          }
        },
        {
          "data": {"name": "feb1"},
          "transform": [{"lookup": "c", "from": {"data": {"name": "classes"}, "key": "c", "fields": ["lwc"]}}],
          "mark": {"type": "circle", "size": 26, "opacity": 1},
          "encoding": {
            "x": {"field": "d", "type": "quantitative", "scale": {"domain": [0, 30], "nice": false, "zero": false}, "axis": {"orient": "bottom", "values": [0, 5, 10, 15, 20, 25, 30], "ticks": false, "tickSize": 0, "labelPadding": 20, "title": "FSSP Effective Diameter [µm]", "titlePadding": 20}},
            "y": {"field": "t", "type": "quantitative", "scale": {"domain": [-45, 15], "reverse": true, "nice": false, "zero": false}, "axis": {"orient": "left", "values": [-40, -30, -20, -10, 0, 10], "ticks": false, "tickSize": 0, "labelPadding": 12, "labelExpr": "'' + datum.value", "title": "T [°C]", "titlePadding": 4}},
            "fill": {
              "field": "lwc", "type": "nominal",
              "scale": {"domain": ["LWC < 0.4 g m-3", "0.4<LWC<1.5 g m-3", "LWC > 1.5 g m-3"], "range": ["#1e1e1e", "#4a7dc8", "#de623e"]},
              "legend": {"title": null, "orient": "none", "legendX": 67, "legendY": -89, "direction": "vertical", "symbolType": "square", "symbolSize": 16, "symbolOpacity": 1, "symbolStrokeWidth": 0, "labelFont": "Liberation Sans", "labelFontSize": 18, "labelLimit": 400, "padding": 10, "rowPadding": 3.5, "symbolOffset": 20, "labelOffset": 24, "strokeColor": "#111", "fillColor": "white",
                "encode": {"legend": {"update": {"strokeWidth": {"value": 2}}}, "labels": {"update": {"fill": {"signal": "datum.value === 'LWC < 0.4 g m-3' ? '#1e1e1e' : datum.value === '0.4<LWC<1.5 g m-3' ? '#4a7dc8' : '#de623e'"}}}}}
            }
          }
        },
        {
          "data": {"values": [{}]},
          "mark": {"type": "point", "opacity": 0},
          "encoding": {
            "x": {"datum": 0, "type": "quantitative", "axis": {"orient": "top", "offset": -441, "values": [0, 5, 10, 15, 20, 25, 30], "tickSize": 9, "labels": false, "title": null}},
            "y": {"datum": 0, "type": "quantitative", "axis": {"orient": "right", "offset": -387, "values": [-40, -30, -20, -10, 0, 10], "tickSize": 9, "labels": false, "title": null}}
          }
        },
        {
          "data": {"values": [{}]},
          "mark": {"type": "point", "opacity": 0},
          "encoding": {
            "x": {"datum": 0, "type": "quantitative", "axis": {"orient": "top", "offset": -441, "values": [1,2,3,4,6,7,8,9,11,12,13,14,16,17,18,19,21,22,23,24,26,27,28,29], "tickSize": 5, "labels": false, "title": null}},
            "y": {"datum": 0, "type": "quantitative", "axis": {"orient": "right", "offset": -387, "values": [-44,-42,-38,-36,-34,-32,-28,-26,-24,-22,-18,-16,-14,-12,-8,-6,-4,-2,2,4,6,8,12,14], "tickSize": 5, "labels": false, "title": null}}
          }
        },
        {
          "data": {"values": [{}]},
          "mark": {"type": "point", "opacity": 0},
          "encoding": {
            "x": {"datum": 0, "type": "quantitative", "axis": {"orient": "bottom", "offset": -441, "values": [0, 5, 10, 15, 20, 25, 30], "tickSize": 9, "labels": false, "title": null}},
            "y": {"datum": 0, "type": "quantitative", "axis": {"orient": "left", "offset": -387, "values": [-40, -30, -20, -10, 0, 10], "tickSize": 9, "labels": false, "title": null}}
          }
        },
        {
          "data": {"values": [{}]},
          "mark": {"type": "point", "opacity": 0},
          "encoding": {
            "x": {"datum": 0, "type": "quantitative", "axis": {"orient": "bottom", "offset": -441, "values": [1,2,3,4,6,7,8,9,11,12,13,14,16,17,18,19,21,22,23,24,26,27,28,29], "tickSize": 5, "labels": false, "title": null}},
            "y": {"datum": 0, "type": "quantitative", "axis": {"orient": "left", "offset": -387, "values": [-44,-42,-38,-36,-34,-32,-28,-26,-24,-22,-18,-16,-14,-12,-8,-6,-4,-2,2,4,6,8,12,14], "tickSize": 5, "labels": false, "title": null}}
          }
        },
        {
          "data": {"values": [{"label": "1 Feb 2000"}]},
          "mark": {"type": "text", "align": "left", "baseline": "middle", "fontSize": 21, "fontWeight": "bold", "font": "Liberation Sans", "color": "#1a1a1a"},
          "encoding": {
            "x": {"datum": 1.7, "type": "quantitative", "axis": null},
            "y": {"datum": -40.3, "type": "quantitative", "axis": null},
            "text": {"field": "label"}
          }
        }
      ]
    },
    {
      "width": 387, "height": 441,
      "resolve": {"axis": {"x": "independent", "y": "independent"}},
      "layer": [
        {
          "data": {"name": "classes"},
          "mark": {"type": "point", "opacity": 0},
          "encoding": {
            "x": {"datum": 0, "type": "quantitative", "axis": null},
            "y": {"datum": 0, "type": "quantitative", "axis": null},
            "color": {"field": "c", "type": "nominal", "scale": {"domain": ["K", "B", "R"], "range": ["#111", "#111", "#111"]},
              "legend": {"title": null, "orient": "none", "legendX": 49, "legendY": -84, "direction": "vertical", "symbolType": "square", "symbolSize": 324, "symbolOpacity": 0, "symbolStrokeWidth": 0, "labelFontSize": 18, "labelOpacity": 0, "padding": 10, "rowPadding": 3.5, "symbolOffset": 20, "labelOffset": 185, "strokeColor": "#111", "fillColor": "#111",
                "labelExpr": "''"}}
          }
        },
        {
          "data": {"name": "feb7"},
          "transform": [{"lookup": "c", "from": {"data": {"name": "classes"}, "key": "c", "fields": ["lwc"]}}],
          "mark": {"type": "circle", "size": 26, "opacity": 1},
          "encoding": {
            "x": {"field": "d", "type": "quantitative", "scale": {"domain": [0, 30], "nice": false, "zero": false}, "axis": {"orient": "bottom", "values": [0, 5, 10, 15, 20, 25, 30], "ticks": false, "tickSize": 0, "labelPadding": 20, "title": "FSSP Effective Diameter [µm]", "titlePadding": 20}},
            "y": {"field": "t", "type": "quantitative", "scale": {"domain": [-45, 15], "reverse": true, "nice": false, "zero": false}, "axis": {"orient": "left", "values": [-40, -30, -20, -10, 0, 10], "ticks": false, "tickSize": 0, "labelPadding": 12, "labelExpr": "'' + datum.value", "title": "T [°C]", "titlePadding": 4}},
            "fill": {
              "field": "lwc", "type": "nominal",
              "scale": {"domain": ["LWC < 0.4 g m-3", "0.4<LWC<1.5 g m-3", "LWC > 1.5 g m-3"], "range": ["#1e1e1e", "#4a7dc8", "#de623e"]},
              "legend": {"title": null, "orient": "none", "legendX": 44, "legendY": -89, "direction": "vertical", "symbolType": "square", "symbolSize": 16, "symbolOpacity": 1, "symbolStrokeWidth": 0, "labelFont": "Liberation Sans", "labelFontSize": 18, "labelLimit": 400, "padding": 10, "rowPadding": 3.5, "symbolOffset": 20, "labelOffset": 24, "strokeColor": "#111", "fillColor": "white",
                "encode": {"legend": {"update": {"strokeWidth": {"value": 2}}}, "labels": {"update": {"fill": {"signal": "datum.value === 'LWC < 0.4 g m-3' ? '#1e1e1e' : datum.value === '0.4<LWC<1.5 g m-3' ? '#4a7dc8' : '#de623e'"}}}}}
            }
          }
        },
        {
          "data": {"values": [{}]},
          "mark": {"type": "point", "opacity": 0},
          "encoding": {
            "x": {"datum": 0, "type": "quantitative", "axis": {"orient": "top", "offset": -441, "values": [0, 5, 10, 15, 20, 25, 30], "tickSize": 9, "labels": false, "title": null}},
            "y": {"datum": 0, "type": "quantitative", "axis": {"orient": "right", "offset": -387, "values": [-40, -30, -20, -10, 0, 10], "tickSize": 9, "labels": false, "title": null}}
          }
        },
        {
          "data": {"values": [{}]},
          "mark": {"type": "point", "opacity": 0},
          "encoding": {
            "x": {"datum": 0, "type": "quantitative", "axis": {"orient": "top", "offset": -441, "values": [1,2,3,4,6,7,8,9,11,12,13,14,16,17,18,19,21,22,23,24,26,27,28,29], "tickSize": 5, "labels": false, "title": null}},
            "y": {"datum": 0, "type": "quantitative", "axis": {"orient": "right", "offset": -387, "values": [-44,-42,-38,-36,-34,-32,-28,-26,-24,-22,-18,-16,-14,-12,-8,-6,-4,-2,2,4,6,8,12,14], "tickSize": 5, "labels": false, "title": null}}
          }
        },
        {
          "data": {"values": [{}]},
          "mark": {"type": "point", "opacity": 0},
          "encoding": {
            "x": {"datum": 0, "type": "quantitative", "axis": {"orient": "bottom", "offset": -441, "values": [0, 5, 10, 15, 20, 25, 30], "tickSize": 9, "labels": false, "title": null}},
            "y": {"datum": 0, "type": "quantitative", "axis": {"orient": "left", "offset": -387, "values": [-40, -30, -20, -10, 0, 10], "tickSize": 9, "labels": false, "title": null}}
          }
        },
        {
          "data": {"values": [{}]},
          "mark": {"type": "point", "opacity": 0},
          "encoding": {
            "x": {"datum": 0, "type": "quantitative", "axis": {"orient": "bottom", "offset": -441, "values": [1,2,3,4,6,7,8,9,11,12,13,14,16,17,18,19,21,22,23,24,26,27,28,29], "tickSize": 5, "labels": false, "title": null}},
            "y": {"datum": 0, "type": "quantitative", "axis": {"orient": "left", "offset": -387, "values": [-44,-42,-38,-36,-34,-32,-28,-26,-24,-22,-18,-16,-14,-12,-8,-6,-4,-2,2,4,6,8,12,14], "tickSize": 5, "labels": false, "title": null}}
          }
        },
        {
          "data": {"values": [{"label": "7 Feb 2000"}]},
          "mark": {"type": "text", "align": "left", "baseline": "middle", "fontSize": 21, "fontWeight": "bold", "font": "Liberation Sans", "color": "#1a1a1a"},
          "encoding": {
            "x": {"datum": 2.1, "type": "quantitative", "axis": null},
            "y": {"datum": -39.9, "type": "quantitative", "axis": null},
            "text": {"field": "label"}
          }
        }
      ]
    }
  ]
}
